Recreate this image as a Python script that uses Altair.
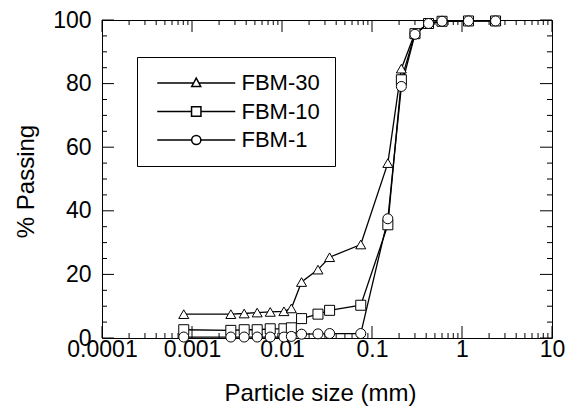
import altair as alt
import pandas as pd

# ---- data ----
series_names = ["FBM-30", "FBM-10", "FBM-1"]
sizes_mm = [0.00081, 0.0027, 0.0038, 0.0053, 0.0074, 0.0105, 0.0127, 0.0165,
            0.0251, 0.0338, 0.075, 0.15, 0.212, 0.3, 0.425, 0.6, 1.18, 2.36]
fbm30 = [7.5, 7.5, 7.7, 8.0, 8.2, 8.4, 9.3, 17.6, 21.5, 25.4, 29.4, 55.0,
         84.7, 95.9, 98.9, 99.6, 99.7, 99.7]
fbm10 = [2.6, 2.4, 2.6, 2.6, 2.9, 2.9, 3.2, 6.1, 7.5, 8.7, 10.3, 35.6,
         81.2, 95.7, 98.9, 99.6, 99.7, 99.7]
fbm1 = [0.3, 0.3, 0.3, 0.3, 0.3, 0.3, 0.5, 1.2, 1.3, 1.4, 1.4, 37.5,
        79.1, 95.5, 98.9, 99.6, 99.7, 99.7]

x_major = [0.0001, 0.001, 0.01, 0.1, 1, 10]
x_minor = [m * d for d in [0.0001, 0.001, 0.01, 0.1, 1] for m in range(2, 10)]
y_major = [0, 20, 40, 60, 80, 100]
y_minor = [5, 10, 15, 25, 30, 35, 45, 50, 55, 65, 70, 75, 85, 90, 95]

# ---- tables ----
rows = []
for name, vals in zip(series_names, [fbm30, fbm10, fbm1]):
    for s, v in zip(sizes_mm, vals):
        rows.append({"series": name, "size": s, "passing": v})
df = pd.DataFrame(rows)

FONT = "Liberation Sans"
W, H = 450, 318
MAJ, MIN = 12, 5

x_scale = alt.Scale(type="log", domain=[0.0001, 10], nice=False)
y_scale = alt.Scale(domain=[0, 100], nice=False, zero=False)

x_axis = alt.Axis(values=x_major, format="~g", title="Particle size (mm)",
                  labelOverlap=False, labelFlush=False, labelPadding=0,
                  titleX=218, titleY=62, titleBaseline="alphabetic",
                  titleAlign="center")
y_axis = alt.Axis(values=y_major, title="% Passing", labelPadding=11,
                  labelOverlap=False, labelFlush=False,
                  titleX=-69, titleY=161, titleAngle=270,
                  titleBaseline="alphabetic", titleAlign="center")

x_enc = alt.X("size:Q", scale=x_scale, axis=x_axis)
y_enc = alt.Y("passing:Q", scale=y_scale, axis=y_axis)

lines = alt.Chart(df).mark_line(color="black", strokeWidth=1.3).encode(
    x=x_enc, y=y_enc, detail="series:N")

points = alt.Chart(df).mark_point(
    filled=True, fill="white", stroke="black", strokeWidth=1, opacity=1, size=100
).encode(
    x=x_enc, y=y_enc,
    shape=alt.Shape("series:N",
                    scale=alt.Scale(domain=series_names,
                                    range=["triangle-up", "square", "circle"]),
                    legend=None))

# legend symbols: a line with the marker in its middle (units of 5 px)
path30 = "M-1.15,0H6.125M7.175,0H14.45M6.65,-0.98L7.55,0.7L5.75,0.7Z"
path10 = "M-1.15,0H5.71M7.59,0H14.45M5.71,-0.94H7.59V0.94H5.71Z"
path1 = ("M-1.15,0H5.73M7.57,0H14.45M7.57,0A0.92,0.92,0,1,1,5.73,0"
         "A0.92,0.92,0,1,1,7.57,0Z")

legend_layer = alt.Chart(df).transform_filter("false").mark_point(
    filled=False, color="black", stroke="black", strokeWidth=1.5, opacity=1
).encode(
    x=x_enc, y=y_enc,
    shape=alt.Shape("series:N",
                    scale=alt.Scale(domain=series_names,
                                    range=[path30, path10, path1]),
                    legend=alt.Legend(
                        orient="none", legendX=35, legendY=37, title=None,
                        strokeColor="black", fillColor="white", padding=15,
                        symbolSize=100, symbolStrokeWidth=1.5,
                        symbolStrokeColor="black",
                        symbolOpacity=1, labelFont=FONT, labelFontSize=22,
                        labelColor="black", labelOffset=67.5, rowPadding=6.5,
                        labelLimit=0)))

xmaj = pd.DataFrame({"size": x_major})
xmin = pd.DataFrame({"size": x_minor})
ymaj = pd.DataFrame({"passing": y_major})
ymin = pd.DataFrame({"passing": y_minor})

def xticks(data, length):
    bot = alt.Chart(data).mark_rule(color="black", strokeWidth=1).encode(
        x=x_enc, y=alt.value(H), y2=alt.value(H - length))
    top = alt.Chart(data).mark_rule(color="black", strokeWidth=1).encode(
        x=x_enc, y=alt.value(0), y2=alt.value(length))
    return [bot, top]

def yticks(data, length):
    left = alt.Chart(data).mark_rule(color="black", strokeWidth=1).encode(
        y=y_enc, x=alt.value(0), x2=alt.value(length))
    right = alt.Chart(data).mark_rule(color="black", strokeWidth=1).encode(
        y=y_enc, x=alt.value(W), x2=alt.value(W - length))
    return [left, right]

tick_layers = xticks(xmaj, MAJ) + xticks(xmin, MIN) + yticks(ymaj, MAJ) + yticks(ymin, MIN)

chart = alt.layer(
    *tick_layers, lines, points, legend_layer
).resolve_scale(shape="independent").properties(
    width=W, height=H,
    autosize=alt.AutoSizeParams(type="none"),
    padding={"left": 102, "top": 20, "right": 14, "bottom": 70},
).configure_view(
    stroke="black", strokeWidth=1
).configure_axis(
    grid=False, domain=False, ticks=False, tickSize=0,
    labelFont=FONT, labelFontSize=23, labelColor="black",
    titleFont=FONT, titleFontSize=24, titleFontWeight="normal", titleColor="black"
)

chart.save("out.html", embed_options={"renderer": "svg", "actions": False})
